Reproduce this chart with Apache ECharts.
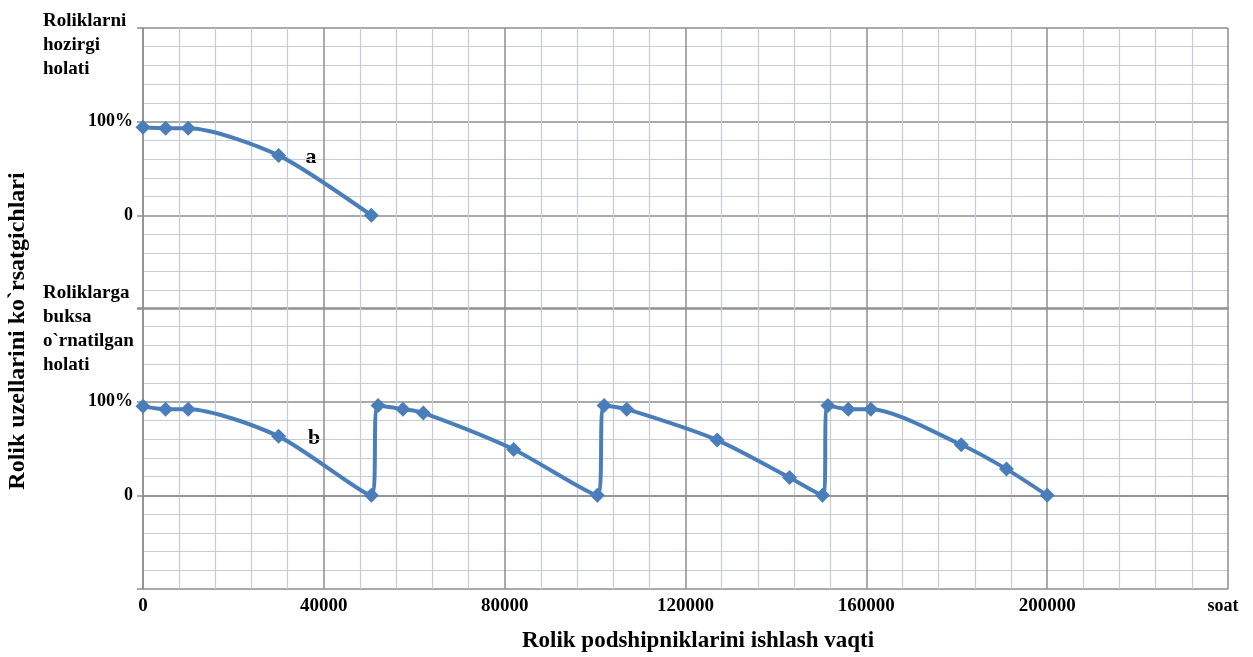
<!DOCTYPE html>
<html>
<head>
<meta charset="utf-8">
<script src="https://cdn.jsdelivr.net/npm/echarts@6/dist/echarts.min.js"></script>
<style>
html,body{margin:0;padding:0;background:#fff;}
#chart{width:1253px;height:657px;}
</style>
</head>
<body>
<div id="chart"></div>
<script>
// ---- data ----
const hoursA = [0, 5000, 10000, 30000, 50500];
const stateA = [94, 93, 93, 64, 0];

const hoursB = [0, 5000, 10000, 30000, 50500, 52000, 57500, 62000, 82000, 100500,
                102000, 107000, 127000, 143000, 150300, 151500, 156000, 161000, 181000, 191000, 200000];
const stateB = [95, 92, 92, 63, 0, 96, 92, 88, 49, 0,
                96, 92, 59, 19, 0, 96, 92, 92, 54, 28, 0];

const xTicks = [0, 40000, 80000, 120000, 160000, 200000, 240000];
const xLastLabel = 'soat';
const yTickLabels = {0: '0', 100: '100%'};

const titleY = 'Rolik uzellarini ko`rsatgichlari';
const titleX = 'Rolik podshipniklarini ishlash vaqti';
const noteTop = ['Roliklarni', 'hozirgi', 'holati'];
const noteBottom = ['Roliklarga', 'buksa', 'o`rnatilgan', 'holati'];
const seriesNames = ['a', 'b'];

// ---- chart ----
const FONT = "'Liberation Serif', 'Times New Roman', serif";
const LINE_COLOR = '#4a7ebb';
const MAJOR = '#8e8e8e';
const MINOR = '#c6ccd6';

function pairs(xs, ys) { return xs.map((x, i) => [x, ys[i]]); }

function xAxisCfg(idx, showLabels) {
  return {
    type: 'value', gridIndex: idx, min: xTicks[0], max: xTicks[xTicks.length - 1],
    interval: xTicks[1] - xTicks[0],
    axisLine: {show: showLabels, lineStyle: {color: MAJOR, width: 1.5}},
    axisTick: {show: showLabels, length: 5, lineStyle: {color: MAJOR, width: 1.5}},
    axisLabel: {
      show: showLabels, margin: 8, color: '#000', fontFamily: FONT, fontWeight: 'bold', fontSize: 19,
      formatter: v => v === xTicks[xTicks.length - 1] ? '{s|' + xLastLabel + '}' : String(v),
      rich: {s: {fontFamily: FONT, fontWeight: 'bold', fontSize: 18, color: '#000', padding: [0, 10, 0, 0]}}
    },
    splitLine: {show: true, lineStyle: {color: MAJOR, width: 1.5}},
    minorTick: {show: false, splitNumber: 5},
    minorSplitLine: {show: true, lineStyle: {color: MINOR, width: 1.2}}
  };
}
function yAxisCfg(idx) {
  return {
    type: 'value', gridIndex: idx, min: -100, max: 200, interval: 100,
    axisLine: {show: true, lineStyle: {color: MAJOR, width: 1.5}},
    axisTick: {show: true, length: 6, lineStyle: {color: MAJOR, width: 1.5}},
    axisLabel: {
      margin: 10, color: '#000', fontFamily: FONT, fontWeight: 'bold', fontSize: 18,
      formatter: v => yTickLabels[v] !== undefined ? yTickLabels[v] : ''
    },
    splitLine: {show: true, lineStyle: {color: MAJOR, width: 1.5}},
    minorTick: {show: false, splitNumber: 5},
    minorSplitLine: {show: true, lineStyle: {color: MINOR, width: 1.2}}
  };
}
function lineSeries(name, idx, data) {
  return {
    name: name, type: 'line', xAxisIndex: idx, yAxisIndex: idx, data: data,
    smooth: 0.25, symbol: 'diamond', symbolSize: 15,
    lineStyle: {color: LINE_COLOR, width: 4},
    itemStyle: {color: LINE_COLOR},
    z: 5
  };
}

const textStyleBase = {fontFamily: FONT, fontWeight: 'bold', fill: '#000'};

const chart = echarts.init(document.getElementById('chart'), null, {renderer: 'canvas'});
chart.setOption({
  backgroundColor: '#fff',
  animation: false,
  grid: [
    {left: 143, right: 25, top: 28, height: 281},
    {left: 143, right: 25, top: 308, height: 281}
  ],
  xAxis: [xAxisCfg(0, false), xAxisCfg(1, true)],
  yAxis: [yAxisCfg(0), yAxisCfg(1)],
  series: [
    lineSeries(seriesNames[0], 0, pairs(hoursA, stateA)),
    lineSeries(seriesNames[1], 1, pairs(hoursB, stateB))
  ],
  graphic: [
    {type: 'text', left: 43, top: 9, style: Object.assign({text: noteTop.join('\n'), fontSize: 19, lineHeight: 24}, textStyleBase)},
    {type: 'text', left: 43, top: 281, style: Object.assign({text: noteBottom.join('\n'), fontSize: 19, lineHeight: 24}, textStyleBase)},
    {type: 'text', x: 311, y: 157, style: Object.assign({text: seriesNames[0], fontSize: 22, align: 'center', verticalAlign: 'middle'}, textStyleBase)},
    {type: 'text', x: 314, y: 438, style: Object.assign({text: seriesNames[1], fontSize: 22, align: 'center', verticalAlign: 'middle'}, textStyleBase)},
    {type: 'text', x: 18, y: 331, rotation: Math.PI / 2, style: Object.assign({text: titleY, fontSize: 24, align: 'center', verticalAlign: 'middle'}, textStyleBase)},
    {type: 'text', x: 698, y: 641, style: Object.assign({text: titleX, fontSize: 23, align: 'center', verticalAlign: 'middle'}, textStyleBase)}
  ]
});
</script>
</body>
</html>
